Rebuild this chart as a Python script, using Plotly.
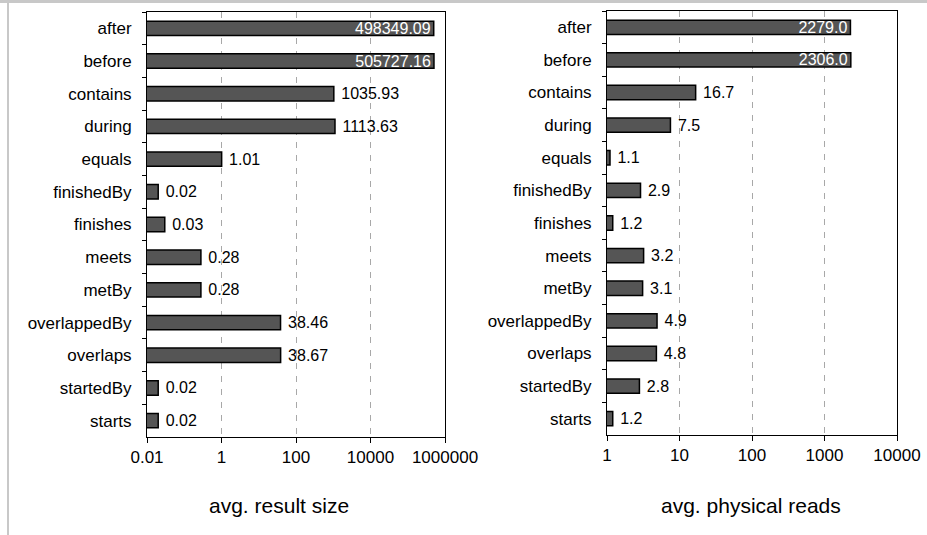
import plotly.graph_objects as go

categories = ["after", "before", "contains", "during", "equals", "finishedBy", "finishes",
              "meets", "metBy", "overlappedBy", "overlaps", "startedBy", "starts"]
result_size = [498349.09, 505727.16, 1035.93, 1113.63, 1.01, 0.02, 0.03,
               0.28, 0.28, 38.46, 38.67, 0.02, 0.02]
physical_reads = [2279.0, 2306.0, 16.7, 7.5, 1.1, 2.9, 1.2, 3.2, 3.1, 4.9, 4.8, 2.8, 1.2]
inside_labels = ["after", "before"]

left_ticks = [0.01, 1, 100, 10000, 1000000]
left_ticktext = ["0.01", "1", "100", "10000", "1000000"]
right_ticks = [1, 10, 100, 1000, 10000]
right_ticktext = ["1", "10", "100", "1000", "10000"]

FONT = "Liberation Sans"
BAR = "#555555"
W, H = 927, 535
positions = ["inside" if c in inside_labels else "outside" for c in categories]

fig = go.Figure()
fig.add_trace(go.Bar(
    y=categories, x=result_size, orientation="h", width=0.44,
    marker=dict(color=BAR, line=dict(color="black", width=1.5)),
    texttemplate="\u00a0%{x:.2f}", textposition=positions, insidetextanchor="end",
    insidetextfont=dict(color="white", size=16, family=FONT),
    outsidetextfont=dict(color="black", size=16, family=FONT),
    constraintext="none", cliponaxis=False, textangle=0,
    xaxis="x", yaxis="y", showlegend=False,
))
fig.add_trace(go.Bar(
    y=categories, x=physical_reads, orientation="h", width=0.44,
    marker=dict(color=BAR, line=dict(color="black", width=1.5)),
    texttemplate="\u00a0%{x:.1f}", textposition=positions, insidetextanchor="end",
    insidetextfont=dict(color="white", size=16, family=FONT),
    outsidetextfont=dict(color="black", size=16, family=FONT),
    constraintext="none", cliponaxis=False, textangle=0,
    xaxis="x2", yaxis="y2", showlegend=False,
))

xcommon = dict(type="log", showline=True, mirror=True, linecolor="black", linewidth=1,
               ticks="outside", ticklen=5, tickcolor="black", automargin=False,
               showgrid=True, gridcolor="#a8a8a8", griddash="6px,7px", gridwidth=1,
               tickfont=dict(size=17, family=FONT, color="black"), zeroline=False)
ycommon = dict(type="category", categoryarray=categories, categoryorder="array",
               autorange="reversed", showline=True, mirror=True, linecolor="black",
               linewidth=1, ticks="outside", ticklen=4, tickcolor="black", automargin=False,
               tickson="boundaries", showgrid=False, ticklabelstandoff=11,
               tickfont=dict(size=17, family=FONT, color="black"))

fig.update_layout(
    width=W, height=H, margin=dict(l=0, r=0, t=0, b=0, pad=0), autosize=False,
    paper_bgcolor="white", plot_bgcolor="white", hovermode=False,
    xaxis=dict(xcommon, domain=[147/W, 445/W], range=[-2, 6], anchor="y",
               tickvals=left_ticks, ticktext=left_ticktext),
    yaxis=dict(ycommon, domain=[1-437/H, 1-12/H], anchor="x"),
    xaxis2=dict(xcommon, domain=[607/W, 897/W], range=[0, 4], anchor="y2",
                tickvals=right_ticks, ticktext=right_ticktext),
    yaxis2=dict(ycommon, domain=[1-435/H, 1-11/H], anchor="x2"),
    annotations=[
        dict(text="avg. result size", x=279/W, y=1-505/H, xref="paper", yref="paper",
             xanchor="center", yanchor="middle",
             showarrow=False, font=dict(size=21, family=FONT, color="black")),
        dict(text="avg. physical reads", x=751/W, y=1-505/H, xref="paper", yref="paper",
             xanchor="center", yanchor="middle",
             showarrow=False, font=dict(size=21, family=FONT, color="black")),
    ],
    shapes=[
        dict(type="rect", xref="paper", yref="paper", x0=0, x1=1, y0=1-3/H, y1=1,
             fillcolor="#c8c8c8", line=dict(width=0), layer="above"),
        dict(type="line", xref="paper", yref="paper", x0=8/W, x1=8/W, y0=0, y1=1,
             line=dict(color="#c8c8c8", width=2), layer="above"),
    ],
)

fig.write_html("out.html", config={"displayModeBar": False},
               post_script="document.body.style.margin='0';document.body.style.overflow='hidden';")
